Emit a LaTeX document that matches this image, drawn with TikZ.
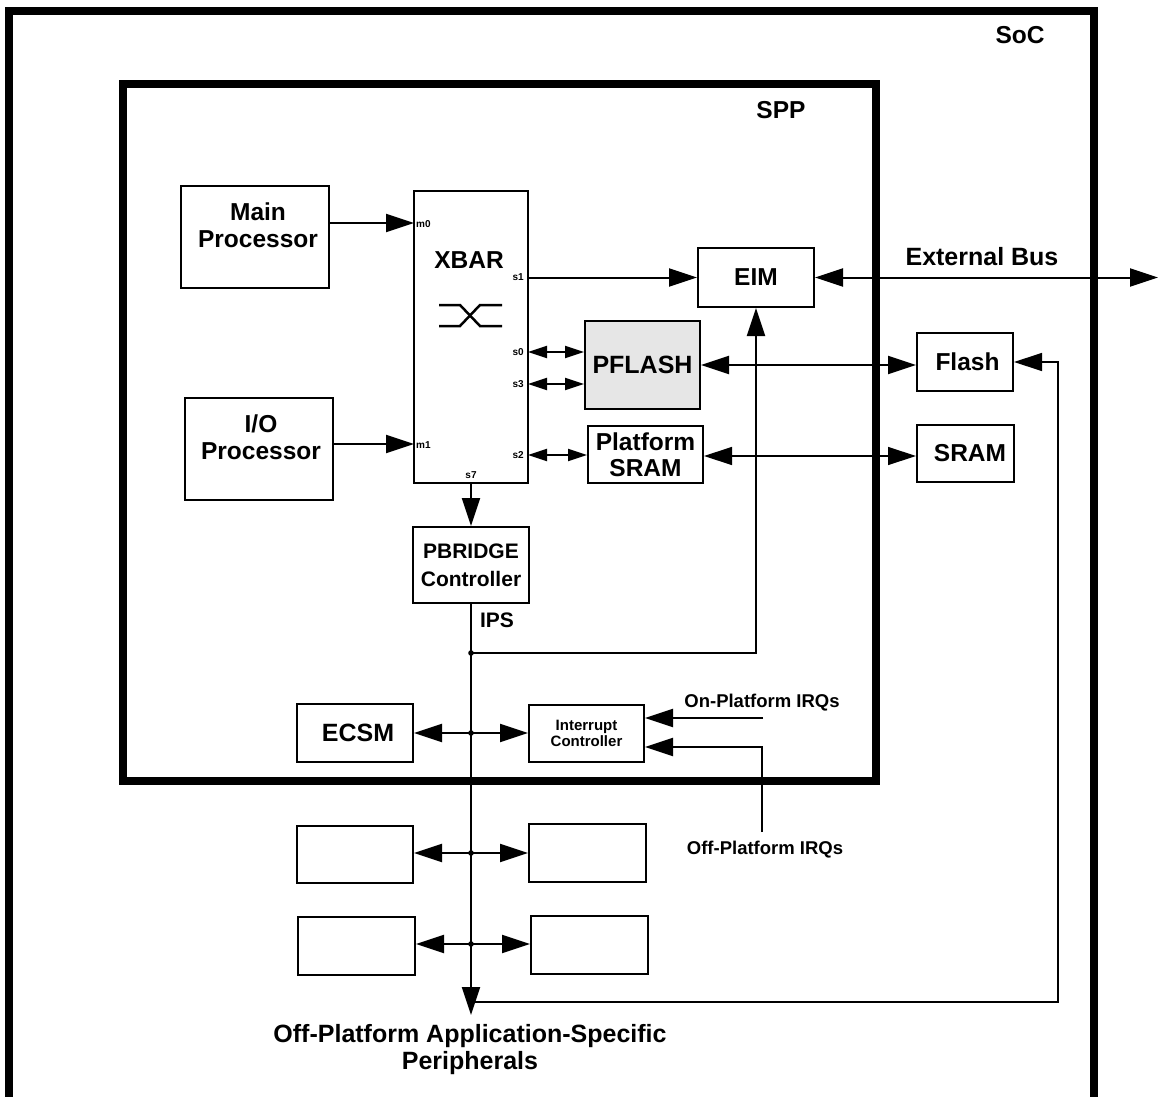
\documentclass[tikz,border=0pt]{standalone}
\usepackage{fontspec}
\setmainfont{Liberation Sans}
\usetikzlibrary{arrows.meta}
\definecolor{pgray}{RGB}{230,230,230}
\tikzset{
  box/.style={draw, line width=2pt, inner sep=0pt, align=center, font=\bfseries\fontsize{24.5}{27}\selectfont},
  lbl/.style={inner sep=0pt, align=center, font=\bfseries\fontsize{24.5}{27}\selectfont},
  small/.style={inner sep=0pt, align=center, font=\bfseries\fontsize{18.5}{20}\selectfont},
  port/.style={inner sep=0pt, font=\bfseries\fontsize{10}{11}\selectfont},
  arr/.style={line width=2pt, -{Triangle[length=28pt,width=18pt]}},
  darr/.style={line width=2pt, {Triangle[length=28pt,width=18pt]}-{Triangle[length=28pt,width=18pt]}},
  sdarr/.style={line width=2pt, {Triangle[length=19pt,width=12pt]}-{Triangle[length=19pt,width=12pt]}},
  frame/.style={line width=8pt},
}
\begin{document}
\begin{tikzpicture}[x=1pt,y=-1pt]
\path[use as bounding box] (0,0) rectangle (1159,1097);

% frames
\draw[frame] (9,1120) -- (9,11) -- (1094,11) -- (1094,1120);
\draw[frame] (123,84) rectangle (876,781);
\node[lbl] (soc) at (1020,35.5) {SoC};
\node[lbl] (spp) at (781,110) {SPP};

% boxes
\node[box, minimum width=148pt, minimum height=102pt] (mp) at (255,237) {};
\node[lbl] (mptext) at (258,225) {Main\\Processor};
\node[box, minimum width=148pt, minimum height=102pt] (iop) at (259,449) {};
\node[lbl] (ioptext) at (261,437) {I/O\\Processor};
\node[box, minimum width=114pt, minimum height=292pt] (xbar) at (471,337) {};
\node[lbl] (xbartext) at (469,260) {XBAR};
\node[box, minimum width=116pt, minimum height=59pt] (eim) at (756,277.5) {EIM};
\node[box, fill=pgray, minimum width=115pt, minimum height=88pt, font=\bfseries\fontsize{25}{27}\selectfont] (pflash) at (642.5,365) {PFLASH};
\node[box, minimum width=115pt, minimum height=57pt, font=\bfseries\fontsize{24.5}{26}\selectfont] (psram) at (645.5,454.5) {Platform\\SRAM};
\node[box, minimum width=96pt, minimum height=58pt] (flash) at (965,362) {\hspace*{5pt}Flash};
\node[box, minimum width=97pt, minimum height=57pt] (sram) at (965.5,453.5) {\hspace*{9pt}SRAM};
\node[box, minimum width=116pt, minimum height=76pt, font=\bfseries\fontsize{21}{28}\selectfont] (pb) at (471,565) {PBRIDGE\\Controller};
\node[box, minimum width=116pt, minimum height=58pt, font=\bfseries\fontsize{25}{27}\selectfont] (ecsm) at (355,733) {\hspace*{6pt}ECSM};
\node[box, minimum width=115pt, minimum height=57pt, font=\bfseries\fontsize{15}{16}\selectfont] (ic) at (586.5,733.5) {Interrupt\\Controller};
\node[box, minimum width=116pt, minimum height=57pt] (p1l) at (355,854.5) {};
\node[box, minimum width=117pt, minimum height=58pt] (p1r) at (587.5,853) {};
\node[box, minimum width=117pt, minimum height=58pt] (p2l) at (356.5,946) {};
\node[box, minimum width=117pt, minimum height=58pt] (p2r) at (589.5,945) {};

% xbar cross symbol
\draw[line width=2.5pt] (439,305) -- (460,305) -- (480,326) -- (502,326);
\draw[line width=2.5pt] (439,326) -- (460,326) -- (480,305) -- (502,305);

% ports
\coordinate (m0) at (414,223);
\coordinate (m1) at (414,444);
\coordinate (s1) at (528,277.5);
\coordinate (s0) at (528,352);
\coordinate (s3) at (528,384);
\coordinate (s2) at (528,455);
\coordinate (s7) at (471,483);
\node[port, anchor=west] (m0l) at (416,224) {m0};
\node[port, anchor=west] (m1l) at (416,445) {m1};
\node[port, anchor=east] (s1l) at (524,277) {s1};
\node[port, anchor=east] (s0l) at (524,352) {s0};
\node[port, anchor=east] (s3l) at (524,384) {s3};
\node[port, anchor=east] (s2l) at (524,455) {s2};
\node[port] (s7l) at (471,475) {s7};

% connectors
\draw[arr] (mp.east |- m0) -- (m0);
\draw[arr] (iop.east |- m1) -- (m1);
\draw[arr] (s1) -- (eim.west);
\draw[sdarr] (s0) -- (pflash.west |- s0);
\draw[sdarr] (s3) -- (pflash.west |- s3);
\draw[sdarr] (s2) -- (psram.west |- s2);
\draw[arr] (s7) -- (pb.north);

\coordinate (ext) at (1158,277.5);
\draw[darr] (eim.east) -- (ext);
\node[lbl, font=\bfseries\fontsize{25}{27}\selectfont] (extl) at (982,257) {External Bus};

\draw[darr] (pflash.east) -- (flash.west |- pflash.east);
\draw[line width=1.3pt, {Triangle[length=28pt,width=18pt]}-{Triangle[length=28pt,width=18pt]}] (psram.east |- 0,456) -- (sram.west |- 0,456);

% IPS bus
\coordinate (busend) at (471,1015);
\coordinate (j1) at (471,653);
\coordinate (j2) at (471,733);
\coordinate (j3) at (471,853);
\coordinate (j4) at (471,944);
\draw[arr] (pb.south) -- (busend);
\node[lbl, font=\bfseries\fontsize{21}{24}\selectfont] (ips) at (497,620) {IPS};
\draw[arr] (j1) -| (eim.south);
\draw[darr] (ecsm.east |- j2) -- (ic.west |- j2);
\draw[darr] (p1l.east |- j3) -- (p1r.west |- j3);
\draw[darr] (p2l.east |- j4) -- (p2r.west |- j4);
\foreach \j in {j1,j2,j3,j4} \fill (\j) circle (2.8pt);

% IRQs
\coordinate (onirq) at (763,718);
\coordinate (offirq) at (762,832);
\draw[arr] (onirq) -- ([yshift=15.5pt]ic.east);
\draw[arr] (offirq) |- ([yshift=-13.5pt]ic.east);
\node[small] (onl) at (762,703) {On-Platform IRQs};
\node[small] (offl) at (765,850) {Off-Platform IRQs};

% flash return line
\coordinate (busret) at (471,1002);
\coordinate (fc) at (1058,1002);
\draw[line width=1.3pt, -{Triangle[length=28pt,width=18pt]}] (busret) -- (fc) |- (flash.east);

\node[lbl, font=\bfseries\fontsize{25}{27}\selectfont] (perl) at (470,1050) {Off-Platform Application-Specific\\Peripherals};
\end{tikzpicture}
\end{document}
